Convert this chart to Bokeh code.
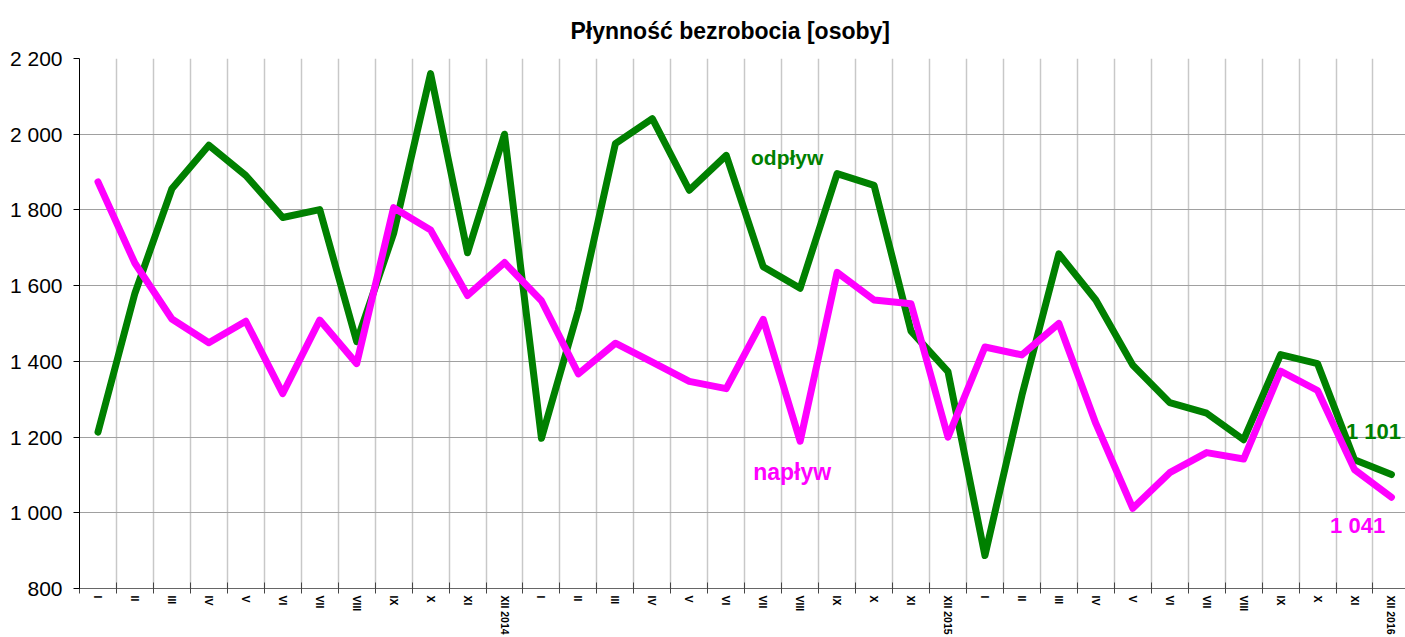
import math
from bokeh.plotting import figure
from bokeh.models import FixedTicker, Range1d, Label
from bokeh.embed import file_html
from bokeh.resources import INLINE

# ---- data ----
month_labels = [
    "I", "II", "III", "IV", "V", "VI", "VII", "VIII", "IX", "X", "XI", "XII 2014",
    "I", "II", "III", "IV", "V", "VI", "VII", "VIII", "IX", "X", "XI", "XII 2015",
    "I", "II", "III", "IV", "V", "VI", "VII", "VIII", "IX", "X", "XI", "XII 2016",
]
odplyw = [1213, 1580, 1856, 1971, 1891, 1780, 1801, 1452, 1738, 2160, 1687, 2000,
          1197, 1536, 1975, 2041, 1852, 1944, 1650, 1593, 1896, 1865, 1480, 1373,
          887, 1310, 1684, 1562, 1390, 1291, 1263, 1193, 1418, 1394, 1140, 1101]
naplyw = [1874, 1659, 1512, 1449, 1506, 1315, 1509, 1394, 1806, 1747, 1574, 1661,
          1560, 1367, 1448, 1398, 1347, 1328, 1511, 1189, 1635, 1562, 1552, 1200,
          1438, 1417, 1500, 1236, 1012, 1106, 1159, 1142, 1374, 1323, 1114, 1041]
y_ticks = [800, 1000, 1200, 1400, 1600, 1800, 2000, 2200]

GREEN = "#008000"
MAGENTA = "#FF00FF"
FONT = "Liberation Sans"


def fmt(v):
    return f"{v:,}".replace(",", " ")


x = list(range(1, len(month_labels) + 1))
bounds = [i + 0.5 for i in range(0, len(month_labels) + 1)]

p = figure(width=1405, height=637,
           x_range=Range1d(0.5, 36.38), y_range=Range1d(800, 2200),
           output_backend="svg", toolbar_location=None,
           min_border_left=79, min_border_right=0,
           min_border_top=58, min_border_bottom=48,
           title="Płynność bezrobocia [osoby]")
p.outline_line_color = None
p.background_fill_color = "white"
p.border_fill_color = "white"

p.title.text_font = FONT
p.title.text_font_size = "23px"
p.title.text_font_style = "bold"
p.title.align = "left"
p.title.offset = 491
p.title.standoff = 29
p.title.text_color = "black"

# x axis
p.xaxis.ticker = FixedTicker(ticks=x, minor_ticks=bounds)
p.xaxis.major_label_overrides = {xi: lab for xi, lab in zip(x, month_labels)}
p.xaxis.major_label_orientation = "vertical"
p.xaxis.major_label_text_font = FONT
p.xaxis.major_label_text_font_size = "10.5px"
p.xaxis.major_label_text_font_style = "bold"
p.xaxis.major_label_text_color = "black"
p.xaxis.major_label_standoff = 2
p.xaxis.major_tick_line_color = None
p.xaxis.major_tick_in = 0
p.xaxis.major_tick_out = 0
p.xaxis.minor_tick_in = 6
p.xaxis.minor_tick_out = 5
p.xaxis.minor_tick_line_color = "#444444"
p.xaxis.axis_line_color = "#666666"

# y axis
p.yaxis.ticker = FixedTicker(ticks=y_ticks)
p.yaxis.major_label_overrides = {v: fmt(v) for v in y_ticks}
p.yaxis.major_label_text_font = FONT
p.yaxis.major_label_text_font_size = "21px"
p.yaxis.major_label_text_color = "black"
p.yaxis.major_label_standoff = 11
p.yaxis.major_tick_in = 0
p.yaxis.major_tick_out = 6
p.yaxis.major_tick_line_color = "black"
p.yaxis.minor_tick_line_color = None
p.yaxis.axis_line_color = "black"

# grids
p.ygrid.ticker = FixedTicker(ticks=y_ticks)
p.ygrid.grid_line_color = "#a0a0a0"
p.ygrid.grid_line_width = 1.2
p.xgrid.ticker = FixedTicker(ticks=bounds[1:-1])
p.xgrid.grid_line_color = "#c8c8c8"
p.xgrid.grid_line_width = 1.5

# labels (under the lines)
for lx, ly, txt, col, size in [
    (18.67, 1939, "odpływ", GREEN, "21px"),
    (18.73, 1109, "napływ", MAGENTA, "23px"),
    (34.77, 1214, fmt(odplyw[-1]), GREEN, "22px"),
    (34.34, 966, fmt(naplyw[-1]), MAGENTA, "22px"),
]:
    p.add_layout(Label(x=lx, y=ly, text=txt, text_color=col, text_font=FONT,
                       text_font_size=size, text_font_style="bold",
                       text_baseline="alphabetic", level="underlay"))

p.line(x, odplyw, line_color=GREEN, line_width=7, line_join="round", line_cap="round")
p.line(x, naplyw, line_color=MAGENTA, line_width=7, line_join="round", line_cap="round")

open("out.html", "w").write(file_html(p, INLINE))
